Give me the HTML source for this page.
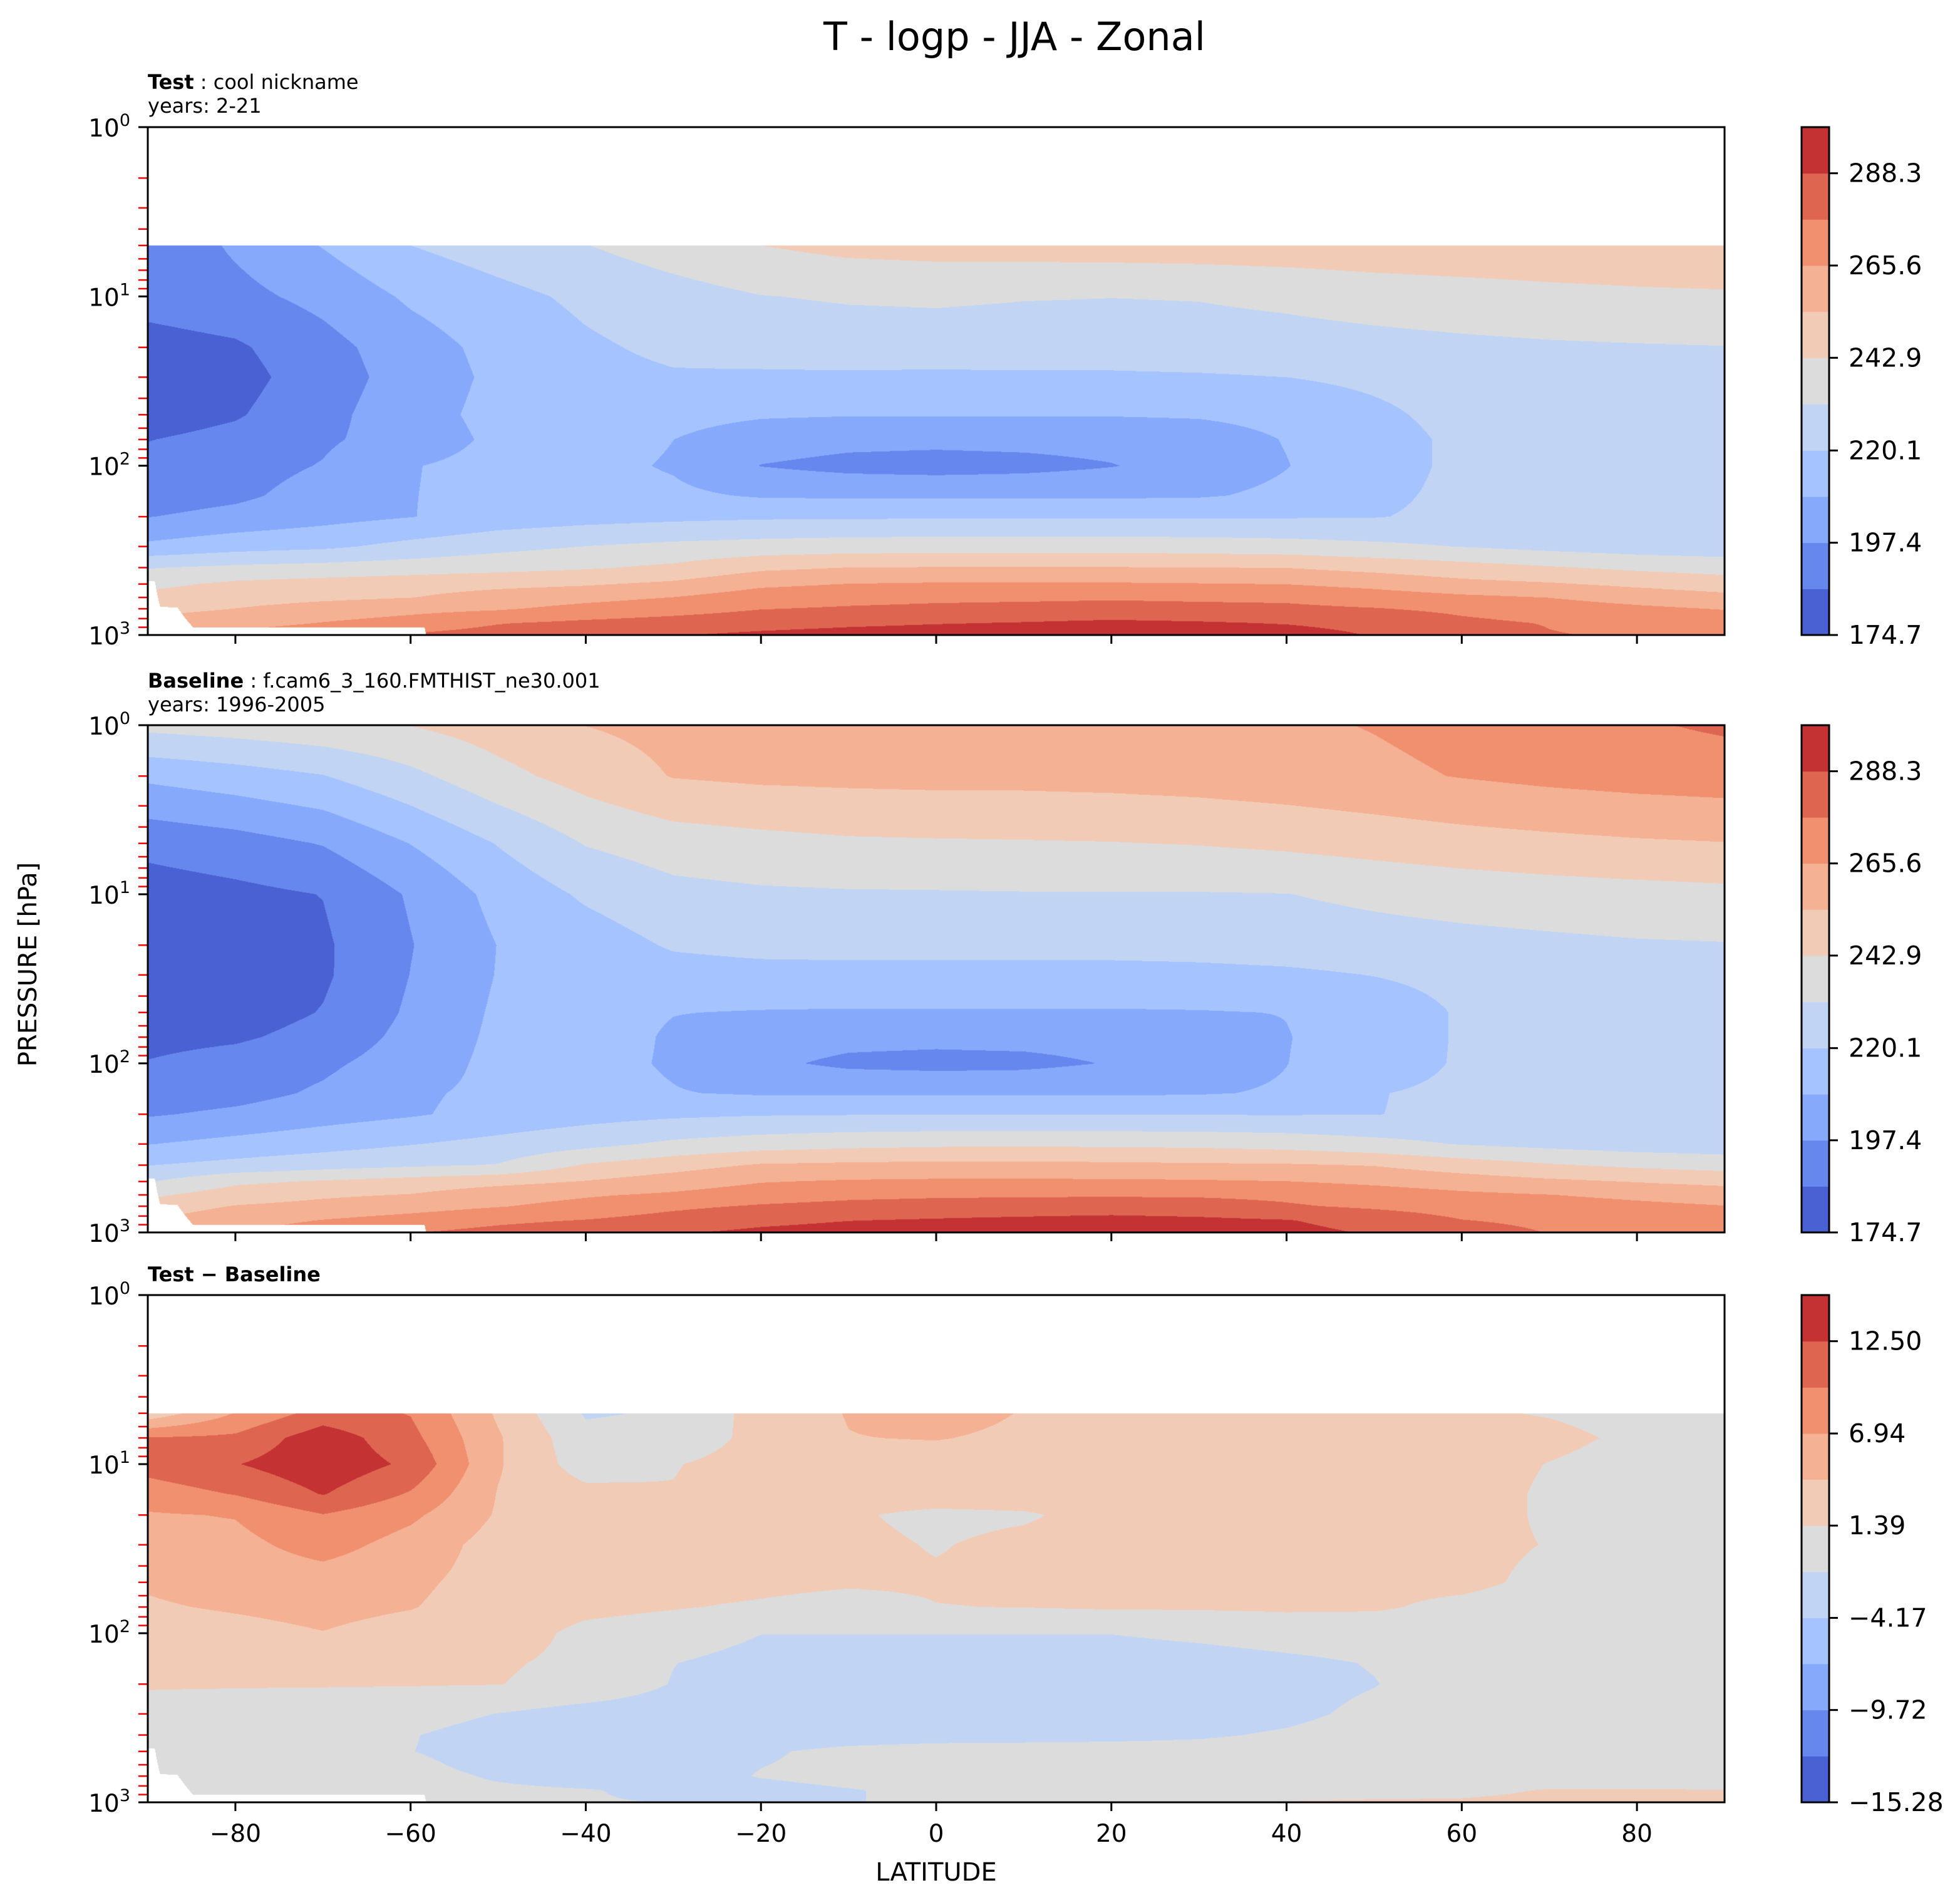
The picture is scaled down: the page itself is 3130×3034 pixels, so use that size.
<!DOCTYPE html>
<html><head><meta charset="utf-8"><style>
html,body{margin:0;padding:0;background:#fff;}
#fig{position:relative;width:3130px;height:3034px;overflow:hidden;background:#fff;font-family:"DejaVu Sans","Liberation Sans",sans-serif;}
canvas{position:absolute;}
svg{position:absolute;left:0;top:0;}
</style></head><body>
<div id="fig">
<canvas id="c1"></canvas>
<canvas id="c2"></canvas>
<canvas id="c3"></canvas>
<svg id="ov" width="3130" height="3034" xmlns="http://www.w3.org/2000/svg">
<text x="1620" y="80" font-size="62" text-anchor="middle">T - logp - JJA - Zonal</text>
<text x="236" y="142" font-size="32"><tspan font-weight="bold">Test</tspan> : cool nickname</text>
<text x="236" y="180" font-size="32">years: 2-21</text>
<text x="236" y="1098" font-size="32"><tspan font-weight="bold">Baseline</tspan> : f.cam6_3_160.FMTHIST_ne30.001</text>
<text x="236" y="1136" font-size="32">years: 1996-2005</text>
<text x="236" y="2046" font-size="32" font-weight="bold">Test − Baseline</text>
<text x="1495" y="3003" font-size="40" text-anchor="middle">LATITUDE</text>
<text x="0" y="0" font-size="40" text-anchor="middle" transform="translate(58,1540) rotate(-90)">PRESSURE [hPa]</text>
<g id="axesLayer"></g>
</svg>
</div>
<script>
// ---------- shared data ----------
const lats = [-90,-80,-70,-60,-50,-40,-30,-20,-10,0,10,20,30,40,50,60,70,80,90];
const surfLat = [-90,-89.2,-88.6,-86.6,-84.8,-58.4,-58.0];
const surfP = [480,480,680,690,905,905,1100];
const xTicks = [-80,-60,-40,-20,0,20,40,60,80];
const xTickLabels = ["−80","−60","−40","−20","0","20","40","60","80"];
const yMajor = [1,10,100,1000];
const yMajorExp = ["0","1","2","3"];
const levelsT = [174.7,186.05,197.4,208.75,220.1,231.5,242.9,254.25,265.6,276.95,288.3,299.65];
const levelsD = [-15.28,-12.50,-9.72,-6.94,-4.17,-1.39,1.39,4.17,6.94,9.72,12.50,15.28];
const cbLabelsT = ["174.7","197.4","220.1","242.9","265.6","288.3"];
const cbLabelsD = ["−15.28","−9.72","−4.17","1.39","6.94","12.50"];
const bandColors = ["#4961d2","#6687ed","#87a9fc","#a5c3fe","#c1d4f4","#dcdcdc","#f2cbb7","#f5b194","#f0906f","#de6650","#c43234"];

// ---------- Test (panel 1) ----------
const testP = [5,10,20,30,50,70,100,150,200,300,400,500,600,700,850,1000];
const testT = [
[188.3,199.1,209.3,220.1,225.8,231.2,237.2,242.9,246.3,247.4,248.0,248.5,249.1,249.7,250.8,251.4,251.9,252.5,253.7],
[190.6,194.0,200.8,210.5,216.7,222.4,227.0,231.2,232.6,233.2,232.1,231.7,232.1,233.8,236.0,237.7,239.4,240.6,241.2],
[181.5,184.4,193.4,203.7,212.2,218.4,222.4,224.7,225.8,225.8,225.8,225.8,226.4,227.0,228.1,229.2,230.1,230.7,231.2],
[179.2,182.1,191.7,202.5,211.1,216.7,219.0,218.4,218.4,218.1,218.4,218.4,219.0,220.1,222.4,224.7,225.3,225.8,225.8],
[180.4,184.9,194.0,204.2,212.2,214.5,212.2,209.9,209.3,209.3,209.3,209.3,209.9,212.2,217.9,223.5,225.3,225.8,225.8],
[185.7,189.5,195.7,202.5,211.1,214.5,208.8,203.1,200.8,200.3,200.8,201.4,203.1,209.3,215.6,222.4,224.7,225.8,225.8],
[189.5,192.9,198.0,208.2,212.2,212.2,207.6,197.1,194.0,192.9,194.0,196.9,202.0,208.4,215.6,222.4,224.7,225.8,225.8],
[191.7,195.1,202.0,208.4,212.2,213.3,211.1,207.6,207.1,207.1,207.1,207.1,207.6,211.1,217.9,222.4,224.7,225.8,225.8],
[197.1,200.8,204.8,208.4,213.3,215.6,217.3,218.4,218.7,218.8,218.8,218.8,219.0,219.2,219.6,222.4,224.7,225.8,225.8],
[211.1,215.6,217.9,223.5,228.1,231.7,234.3,236.0,237.2,237.7,237.7,237.7,237.2,236.0,233.8,231.2,228.1,225.8,224.7],
[230.9,233.8,235.5,237.2,239.4,241.7,245.1,251.9,254.4,254.8,254.8,254.8,254.4,254.0,250.8,247.4,244.0,240.6,238.3],
[240.0,245.1,247.4,249.7,251.4,253.1,256.5,263.3,265.8,266.7,266.7,266.7,266.1,265.4,262.2,257.6,255.4,251.9,248.5],
[246.3,249.7,251.9,254.0,258.8,262.2,265.8,271.3,273.5,274.7,275.2,275.8,275.2,274.7,271.3,267.9,265.4,261.0,257.6],
[250.8,254.4,258.8,262.2,264.4,269.0,272.4,276.6,278.1,279.2,279.8,280.3,279.8,279.2,277.5,274.7,271.3,267.9,265.0],
[257.6,261.0,266.1,270.1,276.4,279.2,281.5,283.8,286.0,287.7,288.9,290.6,289.4,287.7,284.9,279.2,276.4,273.5,272.4],
[263.3,269.0,273.5,278.1,281.5,284.9,287.7,290.6,292.8,294.0,294.5,295.1,294.5,292.8,287.7,283.8,277.5,275.8,274.7]
];

// ---------- Baseline (panel 2) ----------
const baseP = [1,2,5,10,20,30,50,70,100,150,200,300,400,500,600,700,850,1000];
const baseT = [
[234.9,237.2,240.0,243.1,248.5,254.4,257.6,259.3,259.9,260.5,261.0,262.2,262.7,263.9,266.1,269.0,271.8,275.8,278.6],
[211.1,215.0,219.6,228.7,239.4,247.4,254.8,256.5,257.1,257.6,257.6,258.2,259.3,261.0,263.3,266.1,268.4,270.1,271.3],
[189.5,192.9,198.0,209.0,220.7,232.1,237.2,239.4,241.2,241.7,242.1,242.5,243.4,245.1,247.4,249.7,251.4,252.9,253.9],
[180.4,183.2,186.3,198.6,212.2,221.8,228.1,229.8,230.4,230.6,230.9,230.9,230.9,231.3,233.8,236.0,237.7,238.9,240.0],
[178.1,179.8,184.4,196.9,209.0,214.5,221.3,223.5,224.1,224.1,224.1,224.1,224.7,225.8,227.0,228.1,229.2,230.4,230.9],
[178.1,179.8,184.4,197.6,209.3,213.3,215.6,216.2,216.2,216.2,216.2,216.2,216.7,217.9,220.4,223.5,225.3,225.8,225.8],
[178.7,180.4,186.6,199.1,210.5,212.2,209.0,208.2,207.9,207.9,207.9,207.9,208.2,209.0,213.3,221.3,224.1,225.8,225.8],
[182.7,184.4,190.0,200.8,211.1,213.3,207.6,203.1,200.8,200.3,200.8,201.4,203.1,208.4,213.3,221.3,224.1,225.8,225.8],
[186.6,190.6,195.1,203.1,211.6,212.2,207.6,199.7,195.1,194.0,194.6,198.0,203.1,208.6,214.5,221.3,224.1,225.8,225.8],
[190.6,193.4,199.1,207.1,211.1,212.2,209.3,207.6,207.4,207.4,207.4,207.4,207.9,209.9,219.6,222.4,224.7,225.8,225.8],
[196.3,199.7,204.2,207.6,212.2,215.6,217.9,219.2,219.6,219.6,219.6,219.6,219.6,219.6,219.8,222.4,224.7,225.8,225.8],
[208.4,212.2,215.6,219.6,223.5,228.1,233.8,237.2,239.4,240.6,240.8,240.6,240.0,238.3,234.9,230.9,228.1,225.8,224.7],
[219.8,223.5,227.0,229.8,232.1,244.0,249.7,255.4,256.5,257.1,257.1,256.5,255.9,255.4,253.7,248.5,244.0,240.6,238.3],
[230.9,240.6,244.0,247.4,250.8,254.8,259.9,265.0,266.7,267.3,267.3,267.3,266.7,265.8,263.3,259.9,256.5,253.7,250.8],
[240.6,248.5,252.5,254.8,261.0,264.4,267.3,271.3,274.1,275.2,275.6,275.8,275.6,274.7,271.3,267.9,265.8,263.3,261.0],
[248.5,254.8,257.6,261.0,265.0,269.0,274.7,278.1,280.3,281.5,282.1,282.6,281.5,278.1,275.2,272.4,270.1,267.9,265.9],
[254.2,261.0,266.1,270.1,274.7,277.5,281.5,285.5,288.1,289.4,290.6,291.7,290.6,288.9,283.8,277.3,274.7,272.4,271.3],
[259.9,265.8,271.3,276.4,280.3,283.8,287.2,290.6,292.8,294.0,294.5,295.1,294.0,291.7,287.2,281.5,276.6,274.7,273.5]
];

// ---------- Test - Baseline (panel 3) ----------
const diffP = [5,7,10,15,20,30,50,70,100,150,200,300,400,500,600,700,850,1000];
const diffT = [
[2.22,7.09,10.84,9.59,3.75,-1.67,-1.11,2.50,4.31,5.28,4.03,3.06,2.78,2.50,2.22,1.67,1.25,0.56,0.28],
[9.87,10.29,14.18,10.56,4.45,-0.56,-0.28,2.22,4.09,4.31,3.61,3.06,2.78,2.50,2.36,2.22,1.95,0.97,0.28],
[10.84,12.37,14.46,11.95,4.45,0,1.25,2.50,2.78,2.92,2.78,2.64,2.64,2.50,2.50,2.22,1.33,0.56,0],
[8.34,9.87,12.65,9.45,4.03,2.22,1.53,2.22,2.50,2.64,2.64,2.64,2.64,2.50,2.36,2.22,1.11,0.28,0],
[6.67,7.09,9.59,7.51,3.89,2.78,2.22,2.22,1.67,0.83,1.11,2.22,2.36,2.36,2.36,2.22,1.11,0.28,0],
[5.56,6.12,8.06,5.84,3.06,2.50,2.22,2.22,1.95,1.25,1.95,2.50,2.50,2.36,2.22,1.95,1.31,0.56,0],
[4.45,5.28,5.56,4.73,3.06,2.50,2.22,1.95,1.67,1.67,1.81,1.95,1.95,1.95,1.95,1.95,0.83,0.28,0],
[3.89,4.45,5.00,4.31,2.78,1.95,1.53,1.11,0.56,1.33,1.45,1.67,1.67,1.81,1.67,0.83,0.28,0,0],
[2.78,3.34,4.09,3.06,2.50,0.83,0.28,-1.33,-1.33,-1.33,-1.33,-1.33,-0.83,-0.28,0,0,0,0,0],
[1.95,1.95,2.09,1.95,1.67,0.83,-1.33,-2.50,-2.78,-2.78,-2.78,-2.78,-2.50,-1.95,-1.25,0,0,0,0],
[1.53,1.53,1.53,1.53,1.45,0.56,-1.53,-2.78,-3.06,-3.06,-3.06,-2.78,-2.50,-2.22,-1.47,-0.28,0,0,0],
[0.83,0.56,0.28,-0.28,-1.45,-2.50,-2.78,-3.06,-3.06,-3.06,-3.06,-2.78,-2.50,-1.95,-0.83,0,0,0,0],
[0,0,0,-1.25,-2.50,-2.78,-2.78,-2.78,-2.50,-2.22,-2.09,-1.95,-1.67,-1.11,-0.28,0,0,0,0],
[0,0,0,-1.33,-2.50,-2.64,-2.50,-1.67,-0.83,-0.56,-0.56,-0.56,-0.56,-0.28,0,0,0,0,0],
[0,-0.28,-0.56,-0.83,-2.22,-2.50,-2.50,-1.45,-0.83,-0.28,0,0,0,0,0,0,0,0,0],
[0,-0.56,-0.56,-0.56,-1.67,-2.50,-2.50,-1.25,-0.56,-0.28,0,0,0,0,0,0,0,0,0],
[0,-0.56,-0.83,-0.83,-0.97,-1.25,-1.95,-2.22,-1.53,-0.83,-0.28,0,0.14,0.28,0.56,0.83,1.53,1.53,1.45],
[0,-0.28,-0.56,-1.11,-1.11,-1.25,-1.42,-1.95,-1.53,-0.83,-0.28,0.28,0.83,1.53,1.67,1.67,1.95,1.95,1.95]
];

// ---------- layout ----------
const AX_L = 236, AX_R = 2754;
const panels = [
  {id:'c1', top:203, bottom:1014, pres:testP, field:testT, levels:levelsT, labels:cbLabelsT, name:'test'},
  {id:'c2', top:1158, bottom:1968, pres:baseP, field:baseT, levels:levelsT, labels:cbLabelsT, name:'baseline'},
  {id:'c3', top:2068, bottom:2878, pres:diffP, field:diffT, levels:levelsD, labels:cbLabelsD, name:'difference'}
];
const CB_L = 2877, CB_R = 2921;

function xScale(lat){ return AX_L + (lat + 90) / 180 * (AX_R - AX_L); }
function yScale(p, pn){ return pn.top + Math.log10(p) / 3 * (pn.bottom - pn.top); }
function surfaceAt(lat){
  if (lat <= surfLat[0]) return surfP[0];
  for (let i = 0; i < surfLat.length - 1; i++){
    if (lat <= surfLat[i+1]){
      const f = (lat - surfLat[i]) / (surfLat[i+1] - surfLat[i]);
      return surfP[i] + f * (surfP[i+1] - surfP[i]);
    }
  }
  return 5000;
}
function hexRgb(h){ return [parseInt(h.substr(1,2),16),parseInt(h.substr(3,2),16),parseInt(h.substr(5,2),16)]; }
const rgbs = bandColors.map(hexRgb);

function renderPanel(pn){
  const cv = document.getElementById(pn.id);
  const w = AX_R - AX_L, h = pn.bottom - pn.top;
  cv.width = w; cv.height = h;
  cv.style.left = AX_L + 'px'; cv.style.top = pn.top + 'px';
  const ctx = cv.getContext('2d');
  const img = ctx.createImageData(w, h);
  const d = img.data;
  const lp = pn.pres.map(p => Math.log10(p));
  const lv = pn.levels;
  const colI = new Int32Array(w), colF = new Float32Array(w), colS = new Float32Array(w);
  for (let i = 0; i < w; i++){
    const lat = -90 + 180 * (i + 0.5) / w;
    let k = 0;
    while (k < lats.length - 2 && lat > lats[k+1]) k++;
    colI[i] = k; colF[i] = (lat - lats[k]) / (lats[k+1] - lats[k]);
    colS[i] = Math.log10(surfaceAt(lat));
  }
  for (let j = 0; j < h; j++){
    const logp = 3 * (j + 0.5) / h;
    let k = -1;
    if (logp >= lp[0]){
      k = 0;
      while (k < lp.length - 2 && logp > lp[k+1]) k++;
    }
    const fr = k >= 0 ? Math.min(1, (logp - lp[k]) / (lp[k+1] - lp[k])) : 0;
    for (let i = 0; i < w; i++){
      const o = (j * w + i) * 4;
      if (k < 0 || logp > colS[i]){ d[o]=255; d[o+1]=255; d[o+2]=255; d[o+3]=255; continue; }
      const a = colI[i], f = colF[i];
      const r0 = pn.field[k], r1 = pn.field[k+1];
      const v0 = r0[a] + f * (r0[a+1] - r0[a]);
      const v1 = r1[a] + f * (r1[a+1] - r1[a]);
      const v = v0 + fr * (v1 - v0);
      let b = -1;
      if (v >= lv[0] && v <= lv[lv.length-1]){
        b = 0;
        while (b < lv.length - 2 && v >= lv[b+1]) b++;
      }
      if (b < 0){ d[o]=255; d[o+1]=255; d[o+2]=255; d[o+3]=255; continue; }
      const c = rgbs[b];
      d[o]=c[0]; d[o+1]=c[1]; d[o+2]=c[2]; d[o+3]=255;
    }
  }
  ctx.putImageData(img, 0, 0);
}

const NS = 'http://www.w3.org/2000/svg';
const layer = document.getElementById('axesLayer');
function mk(tag, attrs, parent){
  const el = document.createElementNS(NS, tag);
  for (const k in attrs) el.setAttribute(k, attrs[k]);
  (parent || layer).appendChild(el);
  return el;
}

panels.forEach((pn, pi) => {
  renderPanel(pn);
  const g = mk('g', {});
  
  
  for (let dec = 0; dec < 3; dec++){
    for (let m = 2; m <= 9; m++){
      const y = yScale(m * Math.pow(10, dec), pn);
      const t = mk('line', {x1: AX_L - 15, x2: AX_L, y1: y, y2: y, stroke: '#ff0000', 'stroke-width': 2.5}, g);
      
      
    }
  }
  yMajor.forEach((p, i) => {
    const y = yScale(p, pn);
    const t = mk('line', {x1: AX_L - 15, x2: AX_L, y1: y, y2: y, stroke: '#000', 'stroke-width': 3}, g);
    
    
    const tx = mk('text', {x: AX_L - 28, y: y + 15, 'font-size': 39, 'text-anchor': 'end'}, g);
    
    
    const s1 = mk('tspan', {}, tx); s1.textContent = '10';
    const s2 = mk('tspan', {dy: -17, 'font-size': 27}, tx); s2.textContent = yMajorExp[i];
  });
  xTicks.forEach((lat, i) => {
    const x = xScale(lat);
    const t = mk('line', {x1: x, x2: x, y1: pn.bottom, y2: pn.bottom + 14, stroke: '#000', 'stroke-width': 3}, g);
    
    
    if (pi === 2){
      const tx = mk('text', {x: x, y: pn.bottom + 63, 'font-size': 39, 'text-anchor': 'middle'}, g);
      
      
      tx.textContent = xTickLabels[i];
    }
  });
  const fr = mk('rect', {x: AX_L, y: pn.top, width: AX_R - AX_L, height: pn.bottom - pn.top, fill: 'none', stroke: '#000', 'stroke-width': 3}, g);
  
  
  const cb = mk('g', {});
  
  
  const lv = pn.levels, nb = lv.length - 1;
  const cbY = v => pn.bottom - (v - lv[0]) / (lv[nb] - lv[0]) * (pn.bottom - pn.top);
  for (let b = 0; b < nb; b++){
    const y1 = cbY(lv[b+1]), y0 = cbY(lv[b]);
    const r = mk('rect', {x: CB_L, y: y1, width: CB_R - CB_L, height: y0 - y1 + 0.5, fill: bandColors[b]}, cb);
    
    
  }
  const cbf = mk('rect', {x: CB_L, y: pn.top, width: CB_R - CB_L, height: pn.bottom - pn.top, fill: 'none', stroke: '#000', 'stroke-width': 3}, cb);
  
  
  pn.labels.forEach((lab, i) => {
    const y = cbY(lv[i * 2]);
    const t = mk('line', {x1: CB_R, x2: CB_R + 14, y1: y, y2: y, stroke: '#000', 'stroke-width': 3}, cb);
    
    
    const tx = mk('text', {x: CB_R + 31, y: y + 14, 'font-size': 41}, cb);
    
    
    tx.textContent = lab;
  });
});
</script>
</body></html>
